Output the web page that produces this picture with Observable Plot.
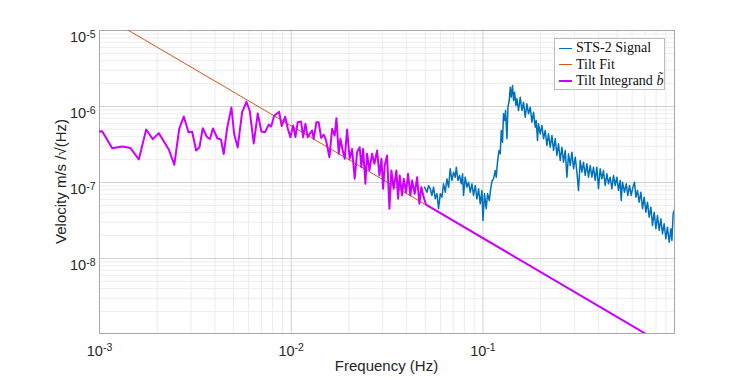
<!DOCTYPE html>
<html><head><meta charset="utf-8">
<script src="https://cdn.jsdelivr.net/npm/d3@7"></script>
<script src="https://cdn.jsdelivr.net/npm/@observablehq/plot@0.6"></script>
<style>
body{margin:0;background:#fff;}
#wrap{position:relative;width:747px;height:377px;}
#legend{position:absolute;left:554px;top:38px;width:111px;height:52px;border:1px solid #bdbdbd;background:#fff;font-family:"Liberation Serif","DejaVu Serif",serif;font-size:14px;color:#111;box-sizing:border-box;}
.row{position:absolute;left:4px;height:16px;display:flex;align-items:center;white-space:nowrap;}
.sw{width:13px;margin-right:4px;}
</style></head>
<body>
<div id="wrap"></div>
<script>
// ---- data ----
const seriesNames = ["STS-2 Signal", "Tilt Fit", "Tilt Integrand"];
const axisLabels = {x: "Frequency (Hz)", y: "Velocity m/s /√(Hz)"};

const freqMag = [0.00100, 0.001033, 0.001165, 0.001313, 0.001451, 0.001603, 0.001752, 0.001896, 0.002038, 0.002298,
  0.002455, 0.002604, 0.002752, 0.002911, 0.003043, 0.003193, 0.003322, 0.003456, 0.003635, 0.003768,
  0.003906, 0.004122, 0.004300, 0.004446, 0.004632, 0.004877, 0.005038, 0.005260, 0.005546, 0.005840,
  0.006070, 0.006376, 0.006690, 0.006990, 0.007295, 0.007635, 0.007858, 0.008145, 0.008650, 0.008920,
  0.009295, 0.009610, 0.009900, 0.01023, 0.01052, 0.01081, 0.01126, 0.01153, 0.01186, 0.01219,
  0.01249, 0.01285, 0.01310, 0.01353, 0.01391, 0.01432, 0.01477, 0.01520, 0.01582, 0.01634,
  0.01686, 0.01721, 0.01769, 0.01805, 0.01856, 0.01901, 0.01956, 0.02018, 0.02077, 0.02143,
  0.02206, 0.02276, 0.02323, 0.02371, 0.02437, 0.02487, 0.02557, 0.02641, 0.02715, 0.02805,
  0.02884, 0.02954, 0.03014, 0.03073, 0.03162, 0.03251, 0.03330, 0.03423, 0.03536, 0.03609,
  0.03679, 0.03786, 0.03860, 0.03973, 0.04069, 0.04183, 0.04269, 0.04405, 0.04534, 0.04660,
  0.04773, 0.04907, 0.0505, 1.0];
const valMag = [4.69e-7, 4.73e-7, 2.82e-7, 2.98e-7, 2.84e-7, 2.01e-7, 4.98e-7, 3.72e-7, 4.46e-7, 2.72e-7,
  1.71e-7, 5.09e-7, 7.38e-7, 4.59e-7, 4.65e-7, 2.64e-7, 2.91e-7, 5.18e-7, 3.97e-7, 3.73e-7,
  5.14e-7, 3.79e-7, 3.68e-7, 2.37e-7, 5.21e-7, 9.70e-7, 4.38e-7, 2.89e-7, 8.41e-7, 1.153e-6,
  8.86e-7, 3.26e-7, 8.09e-7, 4.69e-7, 4.59e-7, 5.77e-7, 5.46e-7, 7.55e-7, 8.51e-7, 5.54e-7,
  7.32e-7, 5.06e-7, 3.95e-7, 5.62e-7, 3.95e-7, 6.21e-7, 6.35e-7, 3.95e-7, 5.92e-7, 3.95e-7,
  4.38e-7, 4.83e-7, 3.76e-7, 6.21e-7, 6.21e-7, 3.87e-7, 4.25e-7, 3.57e-7, 2.15e-7, 5.09e-7,
  4.15e-7, 7.02e-7, 2.39e-7, 3.76e-7, 2.64e-7, 2.05e-7, 4.98e-7, 2.05e-7, 2.77e-7, 1.12e-7,
  2.51e-7, 2.91e-7, 1.59e-7, 2.77e-7, 9.62e-8, 2.39e-7, 1.44e-7, 2.39e-7, 1.76e-7, 2.64e-7,
  1.24e-7, 2.05e-7, 8.26e-8, 1.67e-7, 2.27e-7, 4.51e-8, 1.44e-7, 8.26e-8, 1.44e-7, 6.11e-8,
  1.24e-7, 6.75e-8, 1.12e-7, 7.45e-8, 1.30e-7, 6.75e-8, 1.06e-7, 7.10e-8, 1.17e-7, 5.25e-8,
  8.67e-8, 6.41e-8, 5.1e-8, 6.1e-10];

const freqSts = [0.04960, 0.05105, 0.05205, 0.05310, 0.05420, 0.05526, 0.05640, 0.05757, 0.05868, 0.05990,
  0.06110, 0.06230, 0.06360, 0.06490, 0.06620, 0.06750, 0.06890, 0.07030, 0.07170, 0.07260,
  0.07410, 0.07550, 0.07710, 0.07830, 0.07920, 0.08080, 0.08250, 0.08410, 0.08590, 0.08760,
  0.08930, 0.09120, 0.09300, 0.09490, 0.09680, 0.09880, 0.1000, 0.1019, 0.1040, 0.1057,
  0.1079, 0.1101, 0.1118, 0.1136, 0.1159, 0.1173, 0.1191, 0.1212, 0.1231, 0.1246,
  0.1265, 0.1280, 0.1296, 0.1312, 0.1334, 0.1350, 0.1371, 0.1388, 0.1405, 0.1427,
  0.1444, 0.1462, 0.1486, 0.1504, 0.1533, 0.1565, 0.1597, 0.1628, 0.1661, 0.1696,
  0.1729, 0.1765, 0.1801, 0.1836, 0.1874, 0.1896, 0.1926, 0.1949, 0.1989, 0.2030,
  0.2070, 0.2112, 0.2156, 0.2198, 0.2243, 0.2290, 0.2334, 0.2382, 0.2431, 0.2479,
  0.2529, 0.2582, 0.2632, 0.2687, 0.2742, 0.2795, 0.2853, 0.2911, 0.2968, 0.3029,
  0.3091, 0.3151, 0.3216, 0.3282, 0.3346, 0.3415, 0.3485, 0.3553, 0.3626, 0.3701,
  0.3772, 0.3850, 0.3929, 0.4005, 0.4088, 0.4172, 0.4253, 0.4341, 0.4431, 0.4517,
  0.4610, 0.4705, 0.4796, 0.4895, 0.4996, 0.5093, 0.5198, 0.5262, 0.5344, 0.5474,
  0.5586, 0.5702, 0.5812, 0.5933, 0.6056, 0.6173, 0.6278, 0.6397, 0.6530, 0.6665,
  0.6794, 0.6934, 0.7077, 0.7215, 0.7362, 0.7515, 0.7662, 0.7819, 0.7980, 0.8135,
  0.8303, 0.8472, 0.8637, 0.8815, 0.8996, 0.9173, 0.9361, 0.9555, 0.9670, 0.9822,
  0.9940];
const valSts = [8.67e-8, 7.45e-8, 9.13e-8, 8.26e-8, 6.75e-8, 8.67e-8, 6.10e-8, 7.10e-8, 4.51e-8, 7.10e-8,
  6.41e-8, 9.61e-8, 7.45e-8, 1.119e-7, 8.67e-8, 1.514e-7, 1.063e-7, 1.366e-7, 1.174e-7, 1.589e-7,
  1.063e-7, 1.236e-7, 9.61e-8, 1.302e-7, 6.75e-8, 1.174e-7, 8.67e-8, 1.009e-7, 7.45e-8, 9.61e-8,
  6.75e-8, 9.13e-8, 6.10e-8, 8.26e-8, 5.24e-8, 7.85e-8, 3.16e-8, 7.10e-8, 4.51e-8, 7.10e-8,
  5.80e-8, 8.67e-8, 1.063e-7, 1.119e-7, 1.439e-7, 1.174e-7, 1.849e-7, 2.637e-7, 2.386e-7, 4.83e-7,
  3.39e-7, 8.01e-7, 6.54e-7, 8.86e-7, 3.76e-7, 9.79e-7, 1.199e-6, 1.795e-6, 1.326e-6, 1.889e-6,
  1.199e-6, 1.543e-6, 1.031e-6, 1.263e-6, 8.86e-7, 1.326e-6, 8.86e-7, 1.139e-6, 7.23e-7, 1.085e-6,
  8.01e-7, 9.79e-7, 6.21e-7, 8.41e-7, 5.34e-7, 6.54e-7, 3.57e-7, 5.92e-7, 4.37e-7, 5.62e-7,
  3.76e-7, 4.83e-7, 3.07e-7, 4.37e-7, 2.91e-7, 4.15e-7, 2.637e-7, 3.76e-7, 2.27e-7, 3.23e-7,
  1.948e-7, 2.91e-7, 1.849e-7, 2.637e-7, 1.174e-7, 2.386e-7, 1.674e-7, 2.505e-7, 1.514e-7, 2.153e-7,
  1.366e-7, 7.85e-8, 1.948e-7, 1.366e-7, 1.849e-7, 1.236e-7, 1.762e-7, 1.174e-7, 1.674e-7, 1.174e-7,
  1.589e-7, 1.063e-7, 1.589e-7, 8.26e-8, 1.514e-7, 1.119e-7, 1.439e-7, 9.13e-8, 1.302e-7, 9.61e-8,
  1.174e-7, 8.26e-8, 1.236e-7, 9.13e-8, 1.174e-7, 7.85e-8, 1.063e-7, 5.80e-8, 1.009e-7, 7.45e-8,
  9.61e-8, 6.75e-8, 9.13e-8, 6.75e-8, 8.67e-8, 1.009e-7, 6.41e-8, 7.85e-8, 5.51e-8, 7.45e-8,
  4.51e-8, 6.41e-8, 4.07e-8, 5.51e-8, 3.49e-8, 4.73e-8, 2.72e-8, 4.07e-8, 2.46e-8, 3.68e-8,
  2.34e-8, 3.33e-8, 2.11e-8, 2.86e-8, 1.816e-8, 2.58e-8, 1.639e-8, 2.46e-8, 1.725e-8, 3.88e-8,
  4.28e-8];

const freqFit = [0.001, 1.0];
const valFit = [1.68e-5, 6.1e-10];

const xTicks = [1e-3, 1e-2, 1e-1];
const yTicks = [1e-8, 1e-7, 1e-6, 1e-5];

// ---- tables ----
const sts = freqSts.map((f, i) => ({f, v: valSts[i]}));
const fit = freqFit.map((f, i) => ({f, v: valFit[i]}));
const mag = freqMag.map((f, i) => ({f, v: valMag[i]}));

// grid line positions (log decades)
const minorX = [], minorY = [];
for (let e = -3; e <= -1; e++) for (let k = 2; k <= 9; k++) { const t = k * Math.pow(10, e); if (t < 0.998) minorX.push(t); }
for (let e = -9; e <= -6; e++) for (let k = 2; k <= 9; k++) minorY.push(k * Math.pow(10, e));

const fmt = d => "10^" + Math.round(Math.log10(d));

const W = 747, H = 377, ML = 99, MR = 73, MT = 30, MB = 44;
const chart = Plot.plot({
  width: W, height: H,
  marginLeft: ML, marginRight: MR, marginTop: MT, marginBottom: MB,
  style: {fontFamily: "'Liberation Sans', Arial, sans-serif", color: "#262626", background: "#fff"},
  x: {type: "log", domain: [1e-3, 0.998], ticks: xTicks, tickFormat: fmt, tickSize: 0, tickPadding: 12, label: null},
  y: {type: "log", domain: [1.03e-9, 1e-5], ticks: yTicks, tickFormat: fmt, tickSize: 0, tickPadding: 4, label: null},
  marks: [
    Plot.ruleX(minorX, {stroke: "#ececec", strokeWidth: 1}),
    Plot.ruleY(minorY, {stroke: "#ececec", strokeWidth: 1}),
    Plot.ruleX(xTicks, {stroke: "#d2d2d2", strokeWidth: 1}),
    Plot.ruleY(yTicks, {stroke: "#d2d2d2", strokeWidth: 1}),
    Plot.frame({stroke: "#a8a8a8"}),
    Plot.line(sts, {x: "f", y: "v", stroke: "#0072BD", strokeWidth: 1.5, clip: true}),
    Plot.line(fit, {x: "f", y: "v", stroke: "#D95319", strokeWidth: 1, clip: true}),
    Plot.line(mag, {x: "f", y: "v", stroke: "#CC00FF", strokeWidth: 2, clip: true})
  ]
});

// superscript exponents in tick labels
const NS = "http://www.w3.org/2000/svg";
chart.querySelectorAll('g[aria-label="x-axis tick label"] text, g[aria-label="y-axis tick label"] text').forEach(t => {
  const s = t.textContent;
  if (!s.includes("^")) return;
  const [base, exp] = s.split("^");
  t.textContent = "";
  t.style.fontSize = "14.5px";
  const b = document.createElementNS(NS, "tspan"); b.textContent = base; t.appendChild(b);
  const e = document.createElementNS(NS, "tspan"); e.textContent = exp;
  e.setAttribute("dy", "-0.45em"); e.style.fontSize = "10.5px"; t.appendChild(e);
});
chart.querySelectorAll('g[aria-label="y-axis tick label"] text').forEach(t => t.setAttribute("dy", "0.5em"));

// axis titles
const xl = document.createElementNS(NS, "text");
xl.setAttribute("x", ML + (W - ML - MR) / 2); xl.setAttribute("y", H - 6);
xl.setAttribute("text-anchor", "middle"); xl.style.fontSize = "15px"; xl.setAttribute("fill", "#262626");
xl.textContent = axisLabels.x;
chart.appendChild(xl);
const yl = document.createElementNS(NS, "text");
yl.setAttribute("transform", `translate(66,${MT + (H - MT - MB) / 2}) rotate(-90)`);
yl.setAttribute("text-anchor", "middle"); yl.style.fontSize = "15px"; yl.setAttribute("fill", "#262626");
yl.textContent = axisLabels.y;
chart.appendChild(yl);

const wrap = document.getElementById("wrap");
wrap.appendChild(chart);

// legend
const legend = document.createElement("div");
legend.id = "legend";
const items = [
  {name: seriesNames[0], color: "#0072BD", w: 1.2, top: 1},
  {name: seriesNames[1], color: "#D95319", w: 1, top: 17.5},
  {name: seriesNames[2], color: "#CC00FF", w: 2, top: 34, tilde: true}
];
items.forEach(it => {
  const row = document.createElement("div");
  row.className = "row"; row.style.top = it.top + "px";
  const sw = document.createElement("div");
  sw.className = "sw"; sw.style.borderTop = it.w + "px solid " + it.color;
  row.appendChild(sw);
  const tx = document.createElement("span");
  tx.textContent = it.name;
  if (it.tilde) { const m = document.createElement("i"); m.textContent = " b\u0303"; tx.appendChild(m); }
  row.appendChild(tx);
  legend.appendChild(row);
});
wrap.appendChild(legend);
</script>
</body></html>
